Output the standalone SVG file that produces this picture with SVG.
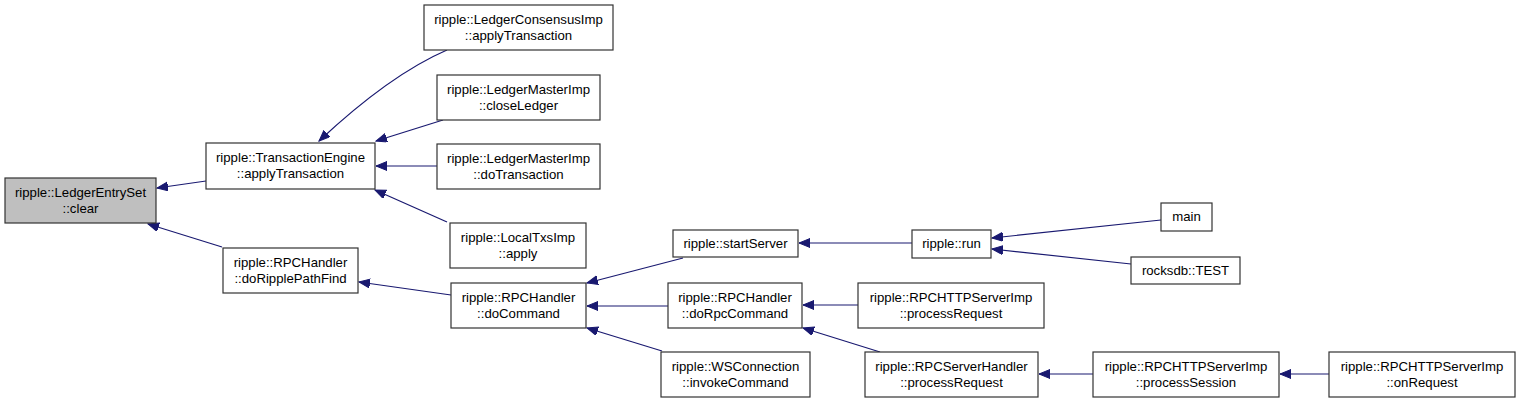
<svg xmlns="http://www.w3.org/2000/svg" width="1520" height="403" viewBox="0 0 1520 403">
<style>
.node rect{fill:#ffffff;stroke:#333333;stroke-width:1.2}
.node text{font-family:"Liberation Sans",Arial,sans-serif;font-size:13.2px;fill:#000;text-anchor:middle}
.edges path{fill:none;stroke:#191970;stroke-width:1.2;marker-end:url(#ah)}
</style>
<defs>
<marker id="ah" markerUnits="userSpaceOnUse" markerWidth="12" markerHeight="10" refX="11" refY="4.5" orient="auto">
<path d="M0,0 L11,4.5 L0,9 z" fill="#191970" stroke="#191970" stroke-width="1"/>
</marker>
</defs>
<rect width="1520" height="403" fill="#ffffff"/>
<g id="edges" class="edges">
<path d="M206,181 L157,188"/>
<path d="M222,247 L148,224"/>
<path d="M447,50 C410,66 365,98 319,141"/>
<path d="M443,120 L376,141"/>
<path d="M437,166 L376,166"/>
<path d="M447,222 L375,190"/>
<path d="M451,295 L359,282"/>
<path d="M683,258 L587,283"/>
<path d="M668,306 L587,306"/>
<path d="M662,351 L587,328"/>
<path d="M912,243 L799,243"/>
<path d="M1161,220 L992,238"/>
<path d="M1131,264 L992,249"/>
<path d="M858,305 L803,305"/>
<path d="M880,352 L803,328"/>
<path d="M1093,374 L1039,374"/>
<path d="M1329,374 L1280,374"/>
</g>
<g id="n1" class="node"><rect x="5" y="178" width="151" height="45" style="fill:#bfbfbf"/><text x="80.5" y="197">ripple::LedgerEntrySet</text><text x="80.5" y="213">::clear</text></g>
<g id="n2" class="node"><rect x="206" y="143" width="169" height="46"/><text x="290.5" y="162">ripple::TransactionEngine</text><text x="290.5" y="178">::applyTransaction</text></g>
<g id="n3" class="node"><rect x="223" y="248" width="135" height="45"/><text x="290.5" y="267">ripple::RPCHandler</text><text x="290.5" y="283">::doRipplePathFind</text></g>
<g id="n4" class="node"><rect x="424" y="5" width="189" height="45"/><text x="518.5" y="24">ripple::LedgerConsensusImp</text><text x="518.5" y="40">::applyTransaction</text></g>
<g id="n5" class="node"><rect x="437" y="75" width="163" height="45"/><text x="518.5" y="94">ripple::LedgerMasterImp</text><text x="518.5" y="110">::closeLedger</text></g>
<g id="n6" class="node"><rect x="437" y="144" width="163" height="45"/><text x="518.5" y="163">ripple::LedgerMasterImp</text><text x="518.5" y="179">::doTransaction</text></g>
<g id="n7" class="node"><rect x="450" y="223" width="136" height="45"/><text x="518" y="242">ripple::LocalTxsImp</text><text x="518" y="258">::apply</text></g>
<g id="n8" class="node"><rect x="451" y="283" width="135" height="45"/><text x="518.5" y="302">ripple::RPCHandler</text><text x="518.5" y="318">::doCommand</text></g>
<g id="n9" class="node"><rect x="673" y="230" width="125" height="27"/><text x="735.5" y="248">ripple::startServer</text></g>
<g id="n10" class="node"><rect x="668" y="283" width="134" height="45"/><text x="735" y="302">ripple::RPCHandler</text><text x="735" y="318">::doRpcCommand</text></g>
<g id="n11" class="node"><rect x="661" y="352" width="149" height="45"/><text x="735.5" y="371">ripple::WSConnection</text><text x="735.5" y="387">::invokeCommand</text></g>
<g id="n12" class="node"><rect x="912" y="230" width="79" height="28"/><text x="951.5" y="248">ripple::run</text></g>
<g id="n13" class="node"><rect x="1161" y="203" width="51" height="28"/><text x="1186.5" y="221">main</text></g>
<g id="n14" class="node"><rect x="1131" y="257" width="109" height="27"/><text x="1185.5" y="275">rocksdb::TEST</text></g>
<g id="n15" class="node"><rect x="858" y="283" width="186" height="45"/><text x="951" y="302">ripple::RPCHTTPServerImp</text><text x="951" y="318">::processRequest</text></g>
<g id="n16" class="node"><rect x="865" y="352" width="173" height="45"/><text x="951.5" y="371">ripple::RPCServerHandler</text><text x="951.5" y="387">::processRequest</text></g>
<g id="n17" class="node"><rect x="1093" y="352" width="186" height="45"/><text x="1186" y="371">ripple::RPCHTTPServerImp</text><text x="1186" y="387">::processSession</text></g>
<g id="n18" class="node"><rect x="1329" y="352" width="186" height="45"/><text x="1422" y="371">ripple::RPCHTTPServerImp</text><text x="1422" y="387">::onRequest</text></g>
</svg>
